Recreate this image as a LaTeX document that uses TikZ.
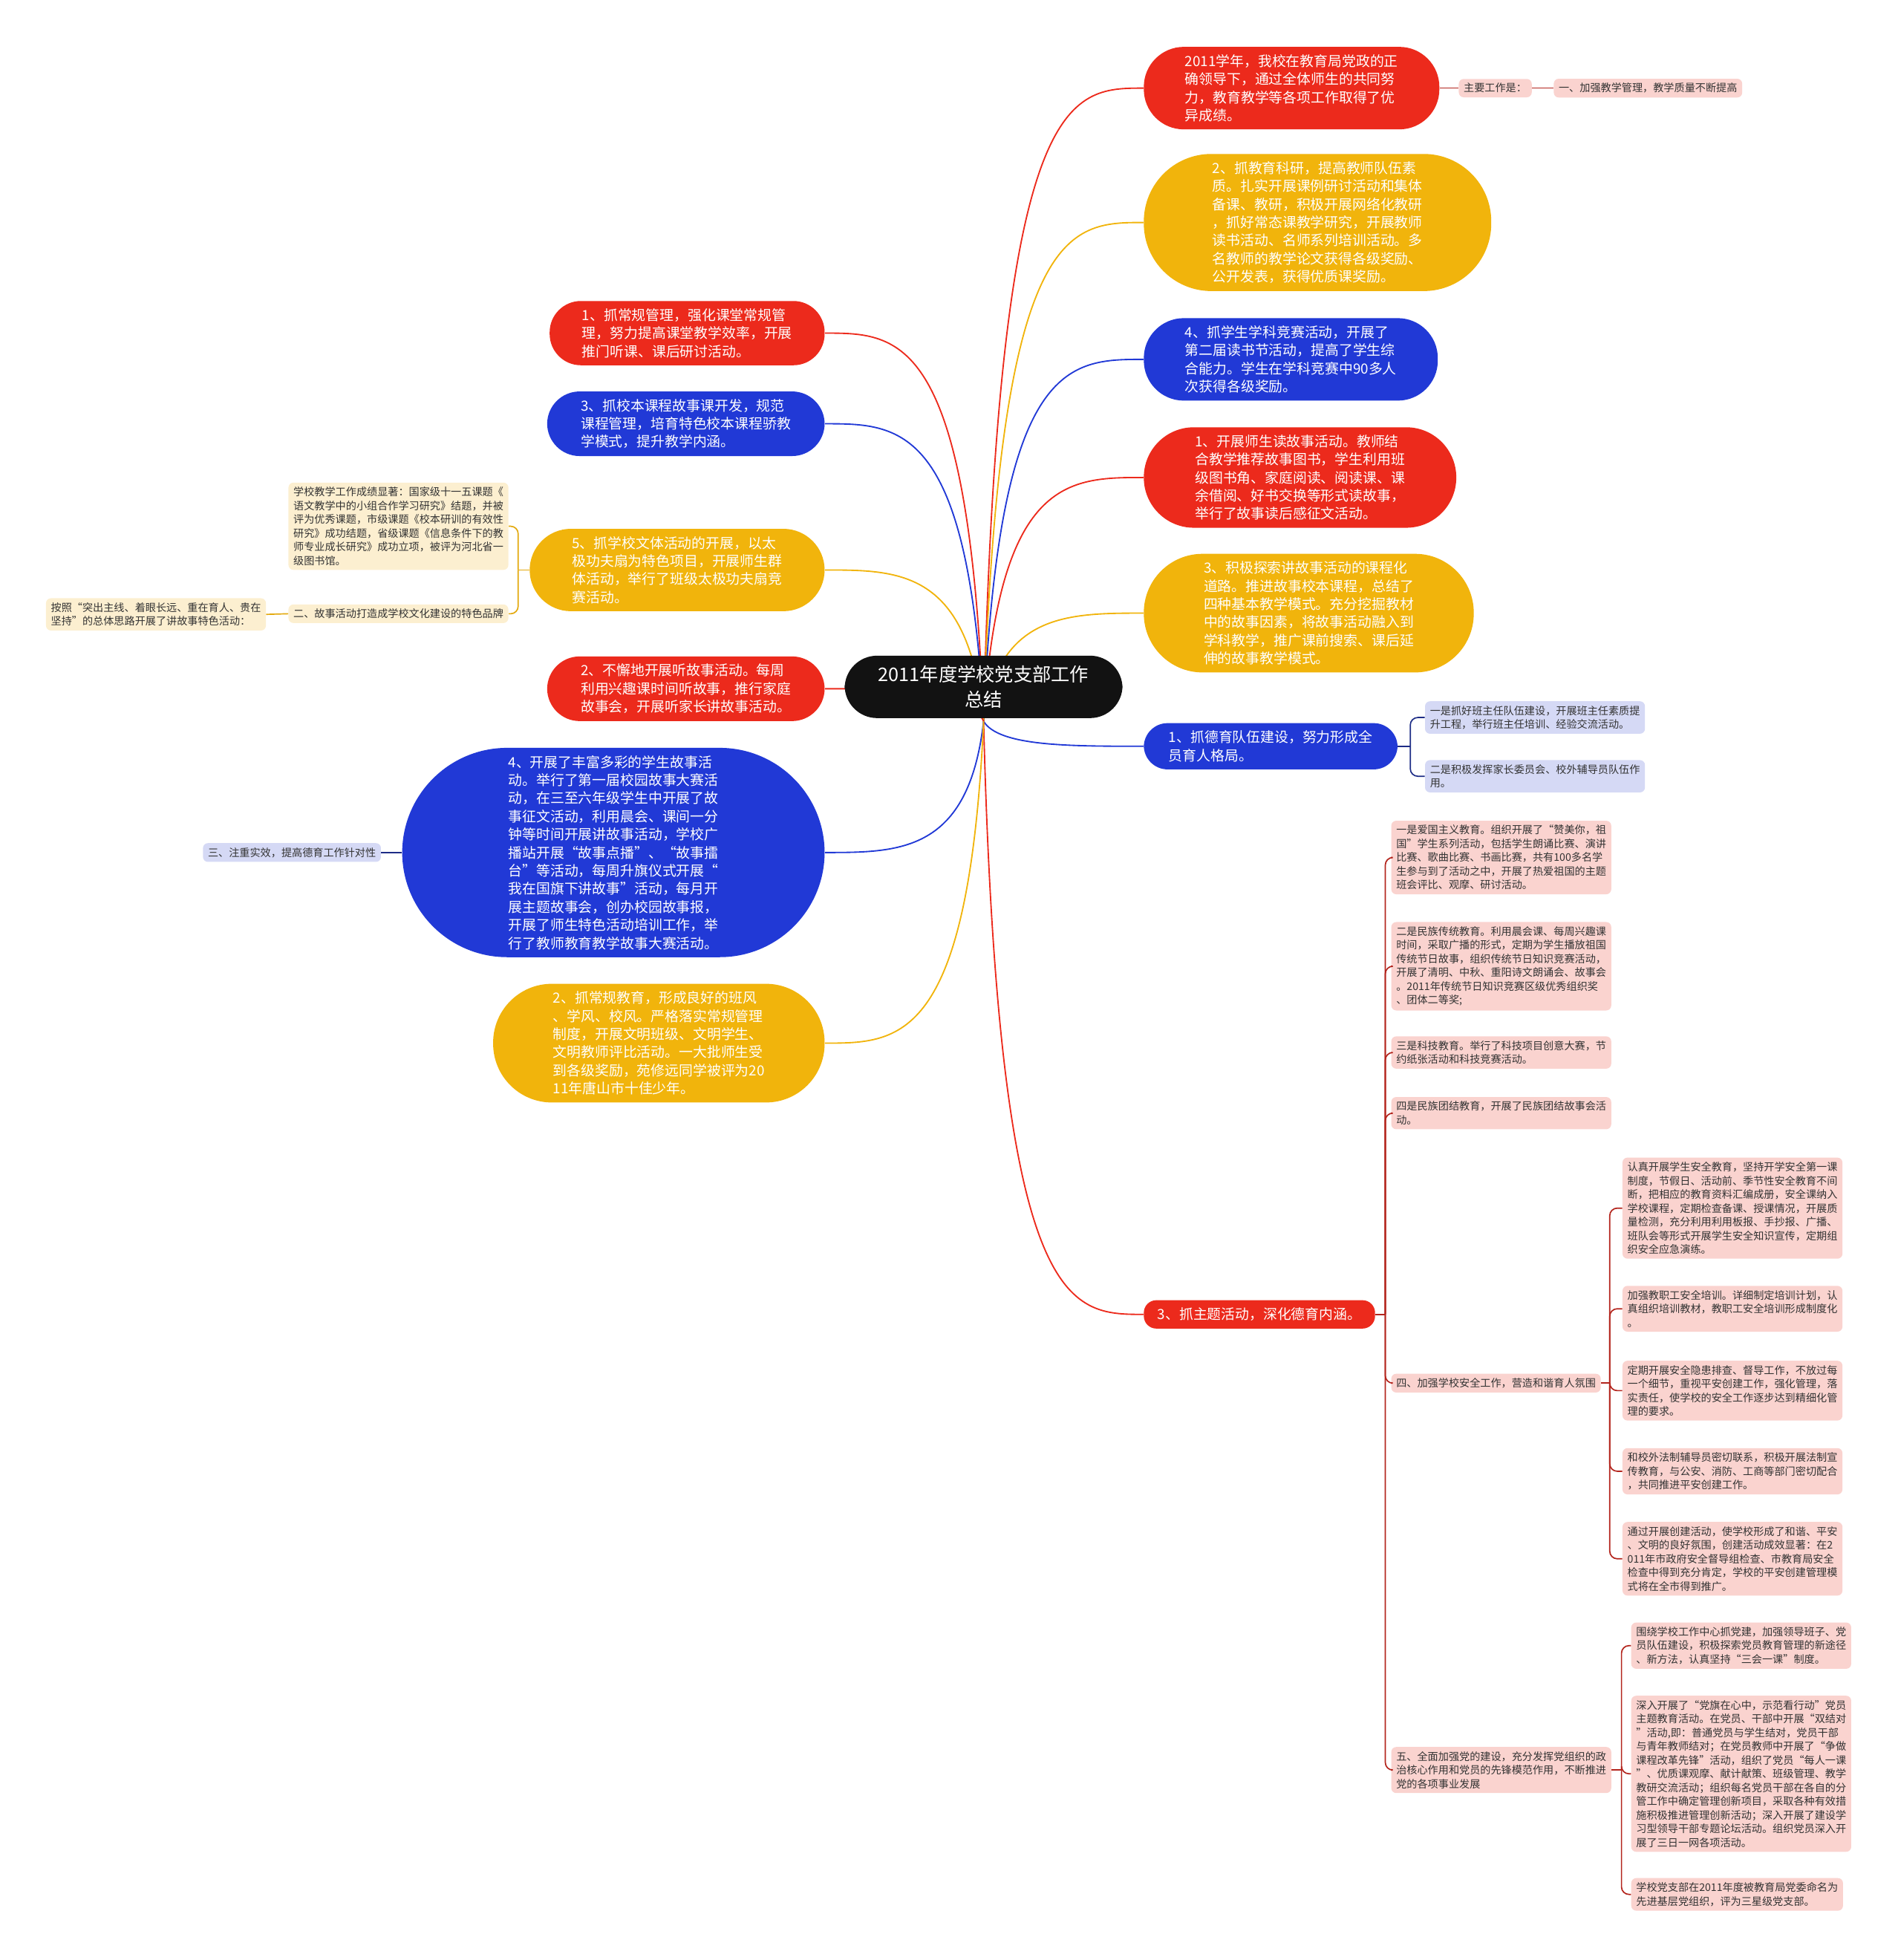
\documentclass[tikz,border=0pt]{standalone}
\usepackage{fontspec}
\setmainfont{Noto Sans CJK SC}
\usetikzlibrary{calc}
\definecolor{tred}{HTML}{EC2A1C}
\definecolor{tyellow}{HTML}{F1B40C}
\definecolor{tblue}{HTML}{2139D6}
\definecolor{leafred}{HTML}{FAD3CF}
\definecolor{leafblue}{HTML}{D5D9F5}
\definecolor{leafyellow}{HTML}{FCEFD0}
\definecolor{linered}{HTML}{B3241C}
\definecolor{lineblue}{HTML}{1D2C86}
\definecolor{lineyellow}{HTML}{E3A90E}
\definecolor{leaftext}{HTML}{333333}
\tikzset{
  topic/.style={rectangle, rounded corners=#1-1pt, inner xsep=#1, inner ysep=6pt, text=white,
    align=left, font=\fontsize{11.2}{14.5}\selectfont},
  redtopic/.style={topic=#1, fill=tred},
  yellowtopic/.style={topic=#1, fill=tyellow},
  bluetopic/.style={topic=#1, fill=tblue},
  root/.style={rectangle, rounded corners=26pt, fill=black!93, text=white, align=center,
    inner xsep=27pt, inner ysep=8pt, font=\fontsize{15}{20}\selectfont},
  leaf/.style={rounded corners=4pt, text=leaftext, align=left, inner xsep=4pt, inner ysep=3.5pt,
    font=\fontsize{8.4}{11}\selectfont},
  redleaf/.style={leaf, fill=leafred},
  blueleaf/.style={leaf, fill=leafblue},
  yellowleaf/.style={leaf, fill=leafyellow},
  branch/.style={line width=1.1pt},
  twig/.style={line width=1pt, rounded corners=6pt},
}
\begin{document}
\begin{tikzpicture}[x=1pt, y=-1pt]
\useasboundingbox (0,0) rectangle (1521,1568);

% right side
\node[redtopic=33pt, anchor=west] (R1) at (915,70.5) {2011学年，我校在教育局党政的正\\确领导下，通过全体师生的共同努\\力，教育教学等各项工作取得了优\\异成绩。};
\node[yellowtopic=55pt, anchor=west] (R2) at (915,178) {2、抓教育科研，提高教师队伍素\\质。扎实开展课例研讨活动和集体\\备课、教研，积极开展网络化教研\\，抓好常态课教学研究，开展教师\\读书活动、名师系列培训活动。多\\名教师的教学论文获得各级奖励、\\公开发表，获得优质课奖励。};
\node[bluetopic=33pt, anchor=west] (R3) at (915,287.5) {4、抓学生学科竞赛活动，开展了\\第二届读书节活动，提高了学生综\\合能力。学生在学科竞赛中90多人\\次获得各级奖励。};
\node[redtopic=41pt, anchor=west] (R4) at (915,382) {1、开展师生读故事活动。教师结\\合教学推荐故事图书，学生利用班\\级图书角、家庭阅读、阅读课、课\\余借阅、好书交换等形式读故事，\\举行了故事读后感征文活动。};
\node[yellowtopic=48pt, anchor=west] (R5) at (915,490.5) {3、积极探索讲故事活动的课程化\\道路。推进故事校本课程，总结了\\四种基本教学模式。充分挖掘教材\\中的故事因素，将故事活动融入到\\学科教学，推广课前搜索、课后延\\伸的故事教学模式。};
\node[bluetopic=20pt, anchor=west] (R6) at (915,597) {1、抓德育队伍建设，努力形成全\\员育人格局。};
\node[redtopic=11pt, anchor=west] (R7) at (915,1051.5) {3、抓主题活动，深化德育内涵。};

% left side
\node[redtopic=26pt, anchor=east] (L1) at (660,266.5) {1、抓常规管理，强化课堂常规管\\理，努力提高课堂教学效率，开展\\推门听课、课后研讨活动。};
\node[bluetopic=27pt, anchor=east] (L2) at (660,339) {3、抓校本课程故事课开发，规范\\课程管理，培育特色校本课程骄教\\学模式，提升教学内涵。};
\node[yellowtopic=34pt, anchor=east] (L3) at (660,456) {5、抓学校文体活动的开展，以太\\极功夫扇为特色项目，开展师生群\\体活动，举行了班级太极功夫扇竞\\赛活动。};
\node[redtopic=27pt, anchor=east] (L4) at (660,551) {2、不懈地开展听故事活动。每周\\利用兴趣课时间听故事，推行家庭\\故事会，开展听家长讲故事活动。};
\node[bluetopic=85pt, anchor=east] (L5) at (660,682) {4、开展了丰富多彩的学生故事活\\动。举行了第一届校园故事大赛活\\动，在三至六年级学生中开展了故\\事征文活动，利用晨会、课间一分\\钟等时间开展讲故事活动，学校广\\播站开展“故事点播”、“故事擂\\台”等活动，每周升旗仪式开展“\\我在国旗下讲故事”活动，每月开\\展主题故事会，创办校园故事报，\\开展了师生特色活动培训工作，举\\行了教师教育教学故事大赛活动。};
\node[yellowtopic=48pt, anchor=east] (L6) at (660,834.5) {2、抓常规教育，形成良好的班风\\、学风、校风。严格落实常规管理\\制度，开展文明班级、文明学生、\\文明教师评比活动。一大批师生受\\到各级奖励，苑修远同学被评为20\\11年唐山市十佳少年。};

% leaves
\node[redleaf, anchor=west] (main) at (1167,70.5) {主要工作是：};
\node[redleaf, anchor=west] (first) at (1243,70.5) {一、加强教学管理，教学质量不断提高};
\node[blueleaf, anchor=west] (b1) at (1140,574) {一是抓好班主任队伍建设，开展班主任素质提\\升工程，举行班主任培训、经验交流活动。};
\node[blueleaf, anchor=west] (b2) at (1140,621) {二是积极发挥家长委员会、校外辅导员队伍作\\用。};
\node[yellowleaf, anchor=east] (k1) at (407,421) {学校教学工作成绩显著：国家级十一五课题《\\语文教学中的小组合作学习研究》结题，并被\\评为优秀课题，市级课题《校本研训的有效性\\研究》成功结题，省级课题《信息条件下的教\\师专业成长研究》成功立项，被评为河北省一\\级图书馆。};
\node[yellowleaf, anchor=east] (k2) at (407,491) {二、故事活动打造成学校文化建设的特色品牌};
\node[yellowleaf, anchor=east] (k3) at (213,491.5) {按照“突出主线、着眼长远、重在育人、贵在\\坚持”的总体思路开展了讲故事特色活动：};
\node[blueleaf, anchor=east] (m1) at (305,682) {三、注重实效，提高德育工作针对性};

\node[redleaf, anchor=west] (c1) at (1113,686) {一是爱国主义教育。组织开展了“赞美你，祖\\国”学生系列活动，包括学生朗诵比赛、演讲\\比赛、歌曲比赛、书画比赛，共有100多名学\\生参与到了活动之中，开展了热爱祖国的主题\\班会评比、观摩、研讨活动。};
\node[redleaf, anchor=west] (c2) at (1113,773) {二是民族传统教育。利用晨会课、每周兴趣课\\时间，采取广播的形式，定期为学生播放祖国\\传统节日故事，组织传统节日知识竞赛活动，\\开展了清明、中秋、重阳诗文朗诵会、故事会\\。2011年传统节日知识竞赛区级优秀组织奖\\、团体二等奖;};
\node[redleaf, anchor=west] (c3) at (1113,842) {三是科技教育。举行了科技项目创意大赛，节\\约纸张活动和科技竞赛活动。};
\node[redleaf, anchor=west] (c4) at (1113,890.5) {四是民族团结教育，开展了民族团结故事会活\\动。};
\node[redleaf, anchor=west] (c5) at (1113,1106.5) {四、加强学校安全工作，营造和谐育人氛围};
\node[redleaf, anchor=west] (c6) at (1113,1416) {五、全面加强党的建设，充分发挥党组织的政\\治核心作用和党员的先锋模范作用，不断推进\\党的各项事业发展};

\node[redleaf, anchor=west] (d1) at (1298,966.5) {认真开展学生安全教育，坚持开学安全第一课\\制度，节假日、活动前、季节性安全教育不间\\断，把相应的教育资料汇编成册，安全课纳入\\学校课程，定期检查备课、授课情况，开展质\\量检测，充分利用利用板报、手抄报、广播、\\班队会等形式开展学生安全知识宣传，定期组\\织安全应急演练。};
\node[redleaf, anchor=west] (d2) at (1298,1047) {加强教职工安全培训。详细制定培训计划，认\\真组织培训教材，教职工安全培训形成制度化\\。};
\node[redleaf, anchor=west] (d3) at (1298,1112.5) {定期开展安全隐患排查、督导工作，不放过每\\一个细节，重视平安创建工作，强化管理，落\\实责任，使学校的安全工作逐步达到精细化管\\理的要求。};
\node[redleaf, anchor=west] (d4) at (1298,1177) {和校外法制辅导员密切联系，积极开展法制宣\\传教育，与公安、消防、工商等部门密切配合\\，共同推进平安创建工作。};
\node[redleaf, anchor=west] (d5) at (1298,1247) {通过开展创建活动，使学校形成了和谐、平安\\、文明的良好氛围，创建活动成效显著：在2\\011年市政府安全督导组检查、市教育局安全\\检查中得到充分肯定，学校的平安创建管理模\\式将在全市得到推广。};

\node[redleaf, anchor=west] (e1) at (1305,1316.5) {围绕学校工作中心抓党建，加强领导班子、党\\员队伍建设，积极探索党员教育管理的新途径\\、新方法，认真坚持“三会一课”制度。};
\node[redleaf, anchor=west] (e2) at (1305,1419) {深入开展了“党旗在心中，示范看行动”党员\\主题教育活动。在党员、干部中开展“双结对\\”活动,即：普通党员与学生结对，党员干部\\与青年教师结对；在党员教师中开展了“争做\\课程改革先锋”活动，组织了党员“每人一课\\”、优质课观摩、献计献策、班级管理、教学\\教研交流活动；组织每名党员干部在各自的分\\管工作中确定管理创新项目，采取各种有效措\\施积极推进管理创新活动；深入开展了建设学\\习型领导干部专题论坛活动。组织党员深入开\\展了三日一网各项活动。};
\node[redleaf, anchor=west] (e3) at (1305,1515.5) {学校党支部在2011年度被教育局党委命名为\\先进基层党组织，评为三星级党支部。};

% branches from the root
\coordinate (hub) at (787,577);
\foreach \n/\c in {R1/tred,R2/tyellow,R3/tblue,R4/tred,R5/tyellow,R6/tblue,R7/tred}
  \draw[branch, \c] (hub) .. controls ($(hub |- \n.west)+(12,0)$) and ($(\n.west)+(-60,0)$) .. (\n.west);
\foreach \n/\c in {L1/tred,L2/tblue,L3/tyellow,L4/tred,L5/tblue,L6/tyellow}
  \draw[branch, \c] (hub) .. controls ($(hub |- \n.east)+(-12,0)$) and ($(\n.east)+(60,0)$) .. (\n.east);

% twigs
\draw[twig, linered] (R1.east) -- (main.west);
\draw[twig, linered] (main.east) -- (first.west);
\draw[twig, lineblue] (R6.east) -- ++(10,0) coordinate (t6);
\foreach \c in {b1,b2}
  \draw[twig, lineblue] (t6) |- (\c.west);
\draw[twig, lineyellow] (L3.west) -- ++(-9,0) coordinate (t3);
\foreach \c in {k1,k2}
  \draw[twig, lineyellow] (t3) |- (\c.east);
\draw[twig, lineyellow] (k2.west) -- (k3.east);
\draw[twig, lineblue] (L5.west) -- (m1.east);
\draw[twig, linered] (R7.east) -- ++(8,0) coordinate (t7);
\foreach \c in {c1,c2,c3,c4,c5,c6}
  \draw[twig, linered] (t7) |- (\c.west);
\draw[twig, linered] (c5.east) -- ++(7,0) coordinate (t5);
\foreach \c in {d1,d2,d3,d4,d5}
  \draw[twig, linered] (t5) |- (\c.west);
\draw[twig, linered] (c6.east) -- ++(8,0) coordinate (t8);
\foreach \c in {e1,e2,e3}
  \draw[twig, linered] (t8) |- (\c.west);

\node[root] (root) at (787,549.5) {2011年度学校党支部工作\\总结};
\end{tikzpicture}
\end{document}
